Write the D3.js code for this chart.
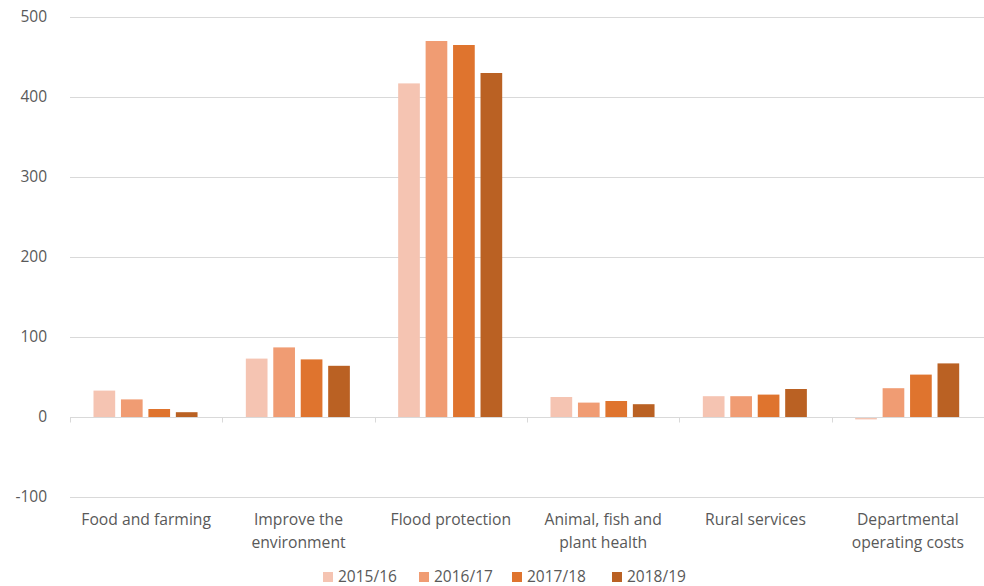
<!DOCTYPE html>
<html>
<head>
<meta charset="utf-8">
<script src="https://cdn.jsdelivr.net/npm/d3@7"></script>
<style>
  body { margin: 0; background: #fff; }
  svg { display: block; }
  text { font-family: "Open Sans", "Liberation Sans", sans-serif; fill: #595959; }
</style>
</head>
<body>
<svg id="chart" width="984" height="586"></svg>
<script>
const categories = [
  ["Food and farming"],
  ["Improve the", "environment"],
  ["Flood protection"],
  ["Animal, fish and", "plant health"],
  ["Rural services"],
  ["Departmental", "operating costs"]
];
const seriesNames = ["2015/16", "2016/17", "2017/18", "2018/19"];
const v2015 = [33, 73, 417, 25, 26, -3];
const v2016 = [22, 87, 470, 18, 26, 36];
const v2017 = [10, 72, 465, 20, 28, 53];
const v2018 = [6, 64, 430, 16, 35, 67];
const yTicks = [-100, 0, 100, 200, 300, 400, 500];
const colors = ["#F5C4B2", "#F09C73", "#DF742E", "#BA6123"];

(function () {
const seriesValues = [v2015, v2016, v2017, v2018];
const svg = d3.select("#chart");
const pLeft = 70, pRight = 984, pTop = 17, pBottom = 497;

const y = d3.scaleLinear().domain([-100, 500]).range([pBottom, pTop]);
const catKeys = categories.map((c, i) => i);
const x0 = d3.scaleBand().domain(catKeys).range([pLeft, pRight]).paddingInner(0).paddingOuter(0);
const cw = x0.bandwidth();
const x1 = d3.scaleBand().domain(d3.range(seriesNames.length)).range([23.5, cw - 24.8]).paddingInner(0.21).paddingOuter(0);

// gridlines
svg.append("g").selectAll("line").data(yTicks.filter(t => t !== 0)).join("line")
  .attr("x1", pLeft).attr("x2", pRight)
  .attr("y1", d => Math.round(y(d)) + 0.5).attr("y2", d => Math.round(y(d)) + 0.5)
  .attr("stroke", "#D9D9D9").attr("stroke-width", 1);

// y tick labels
svg.append("g").selectAll("text").data(yTicks).join("text")
  .attr("x", 47).attr("y", d => y(d)).attr("dy", "0.35em")
  .attr("text-anchor", "end").attr("font-size", 15.5)
  .text(d => d);

// bars
const barData = [];
seriesValues.forEach((vals, s) => vals.forEach((v, c) => barData.push({ s, c, v })));
svg.append("g").selectAll("rect").data(barData).join("rect")
  .attr("x", d => x0(d.c) + x1(d.s))
  .attr("width", x1.bandwidth())
  .attr("y", d => y(Math.max(0, d.v)))
  .attr("height", d => Math.abs(y(d.v) - y(0)))
  .attr("fill", d => colors[d.s]);

// zero axis line
const y0 = Math.round(y(0)) + 0.5;
svg.append("line").attr("x1", pLeft).attr("x2", pRight).attr("y1", y0).attr("y2", y0)
  .attr("stroke", "#D9D9D9").attr("stroke-width", 1);
// category boundary ticks
const bounds = catKeys.map(k => x0(k)).concat([pRight]);
svg.append("g").selectAll("line").data(bounds).join("line")
  .attr("x1", d => Math.round(d) + 0.5).attr("x2", d => Math.round(d) + 0.5)
  .attr("y1", y0).attr("y2", y0 + 5)
  .attr("stroke", "#D9D9D9").attr("stroke-width", 1);

// category labels
const lab = svg.append("g").selectAll("text").data(categories).join("text")
  .attr("text-anchor", "middle").attr("font-size", 15.7)
  .attr("x", (d, i) => x0(i) + cw / 2)
  .attr("y", 525);
lab.selectAll("tspan").data(d => d).join("tspan")
  .attr("x", function () { return d3.select(this.parentNode).attr("x"); })
  .attr("dy", (d, i) => i === 0 ? 0 : 23)
  .text(d => d);

// legend
const legX = [323, 419, 512, 612];
const leg = svg.append("g").selectAll("g").data(seriesNames).join("g")
  .attr("transform", (d, i) => `translate(${legX[i]},572)`);
leg.append("rect").attr("width", 10).attr("height", 10).attr("fill", (d, i) => colors[i]);
leg.append("text").attr("x", 15).attr("y", 9.5).attr("font-size", 15.5).text(d => d);
})();
</script>
</body>
</html>
